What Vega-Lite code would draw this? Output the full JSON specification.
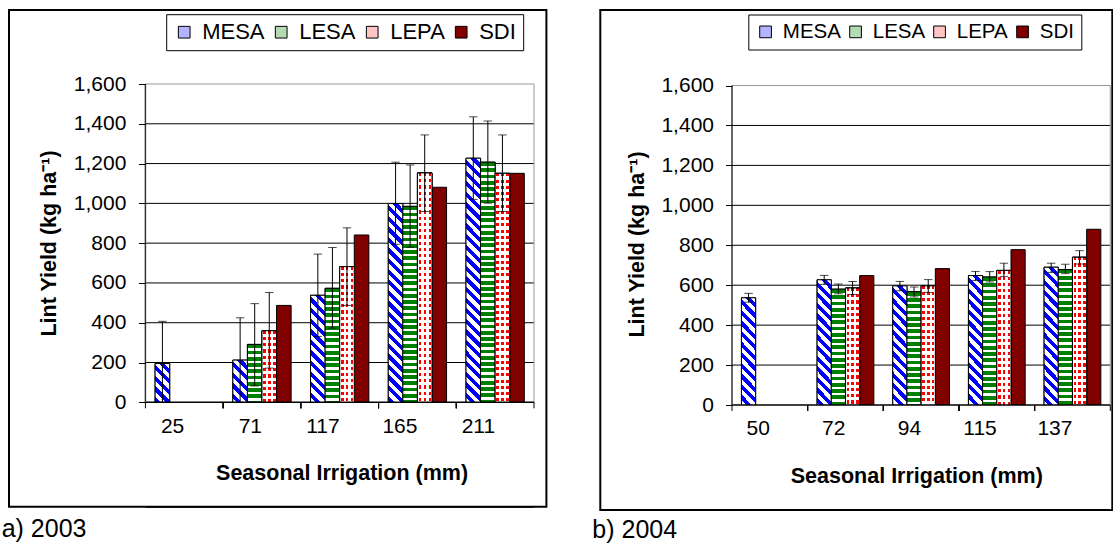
{
"$schema": "https://vega.github.io/schema/vega-lite/v6.json",
"padding": {"left": 0, "top": 9, "right": 0, "bottom": 0},
"background": "white",
"params": [
{"name": "gMesa", "value": {"gradient": "linear", "x1": 0, "y1": 1, "x2": 0.0616, "y2": -0.0548, "stops": [
{"offset":0,"color":"#00f"},{"offset":0.02,"color":"#00f"},{"offset":0.02,"color":"#fff"},{"offset":0.04,"color":"#fff"},
{"offset":0.04,"color":"#00f"},{"offset":0.06,"color":"#00f"},{"offset":0.06,"color":"#fff"},{"offset":0.08,"color":"#fff"},
{"offset":0.08,"color":"#00f"},{"offset":0.1,"color":"#00f"},{"offset":0.1,"color":"#fff"},{"offset":0.12,"color":"#fff"},
{"offset":0.12,"color":"#00f"},{"offset":0.14,"color":"#00f"},{"offset":0.14,"color":"#fff"},{"offset":0.16,"color":"#fff"},
{"offset":0.16,"color":"#00f"},{"offset":0.18,"color":"#00f"},{"offset":0.18,"color":"#fff"},{"offset":0.2,"color":"#fff"},
{"offset":0.2,"color":"#00f"},{"offset":0.22,"color":"#00f"},{"offset":0.22,"color":"#fff"},{"offset":0.24,"color":"#fff"},
{"offset":0.24,"color":"#00f"},{"offset":0.26,"color":"#00f"},{"offset":0.26,"color":"#fff"},{"offset":0.28,"color":"#fff"},
{"offset":0.28,"color":"#00f"},{"offset":0.3,"color":"#00f"},{"offset":0.3,"color":"#fff"},{"offset":0.32,"color":"#fff"},
{"offset":0.32,"color":"#00f"},{"offset":0.34,"color":"#00f"},{"offset":0.34,"color":"#fff"},{"offset":0.36,"color":"#fff"},
{"offset":0.36,"color":"#00f"},{"offset":0.38,"color":"#00f"},{"offset":0.38,"color":"#fff"},{"offset":0.4,"color":"#fff"},
{"offset":0.4,"color":"#00f"},{"offset":0.42,"color":"#00f"},{"offset":0.42,"color":"#fff"},{"offset":0.44,"color":"#fff"},
{"offset":0.44,"color":"#00f"},{"offset":0.46,"color":"#00f"},{"offset":0.46,"color":"#fff"},{"offset":0.48,"color":"#fff"},
{"offset":0.48,"color":"#00f"},{"offset":0.5,"color":"#00f"},{"offset":0.5,"color":"#fff"},{"offset":0.52,"color":"#fff"},
{"offset":0.52,"color":"#00f"},{"offset":0.54,"color":"#00f"},{"offset":0.54,"color":"#fff"},{"offset":0.56,"color":"#fff"},
{"offset":0.56,"color":"#00f"},{"offset":0.58,"color":"#00f"},{"offset":0.58,"color":"#fff"},{"offset":0.6,"color":"#fff"},
{"offset":0.6,"color":"#00f"},{"offset":0.62,"color":"#00f"},{"offset":0.62,"color":"#fff"},{"offset":0.64,"color":"#fff"},
{"offset":0.64,"color":"#00f"},{"offset":0.66,"color":"#00f"},{"offset":0.66,"color":"#fff"},{"offset":0.68,"color":"#fff"},
{"offset":0.68,"color":"#00f"},{"offset":0.7,"color":"#00f"},{"offset":0.7,"color":"#fff"},{"offset":0.72,"color":"#fff"},
{"offset":0.72,"color":"#00f"},{"offset":0.74,"color":"#00f"},{"offset":0.74,"color":"#fff"},{"offset":0.76,"color":"#fff"},
{"offset":0.76,"color":"#00f"},{"offset":0.78,"color":"#00f"},{"offset":0.78,"color":"#fff"},{"offset":0.8,"color":"#fff"},
{"offset":0.8,"color":"#00f"},{"offset":0.82,"color":"#00f"},{"offset":0.82,"color":"#fff"},{"offset":0.84,"color":"#fff"},
{"offset":0.84,"color":"#00f"},{"offset":0.86,"color":"#00f"},{"offset":0.86,"color":"#fff"},{"offset":0.88,"color":"#fff"},
{"offset":0.88,"color":"#00f"},{"offset":0.9,"color":"#00f"},{"offset":0.9,"color":"#fff"},{"offset":0.92,"color":"#fff"},
{"offset":0.92,"color":"#00f"},{"offset":0.94,"color":"#00f"},{"offset":0.94,"color":"#fff"},{"offset":0.96,"color":"#fff"},
{"offset":0.96,"color":"#00f"},{"offset":0.98,"color":"#00f"},{"offset":0.98,"color":"#fff"},{"offset":1,"color":"#fff"}
]}},
{"name": "gLesa", "value": {"gradient": "linear", "x1": 0, "y1": 0, "x2": 0, "y2": 1, "stops": [
{"offset":0,"color":"#008000"},{"offset":0.015,"color":"#008000"},{"offset":0.015,"color":"#fff"},{"offset":0.025,"color":"#fff"},
{"offset":0.025,"color":"#008000"},{"offset":0.04,"color":"#008000"},{"offset":0.04,"color":"#fff"},{"offset":0.05,"color":"#fff"},
{"offset":0.05,"color":"#008000"},{"offset":0.065,"color":"#008000"},{"offset":0.065,"color":"#fff"},{"offset":0.075,"color":"#fff"},
{"offset":0.075,"color":"#008000"},{"offset":0.09,"color":"#008000"},{"offset":0.09,"color":"#fff"},{"offset":0.1,"color":"#fff"},
{"offset":0.1,"color":"#008000"},{"offset":0.115,"color":"#008000"},{"offset":0.115,"color":"#fff"},{"offset":0.125,"color":"#fff"},
{"offset":0.125,"color":"#008000"},{"offset":0.14,"color":"#008000"},{"offset":0.14,"color":"#fff"},{"offset":0.15,"color":"#fff"},
{"offset":0.15,"color":"#008000"},{"offset":0.165,"color":"#008000"},{"offset":0.165,"color":"#fff"},{"offset":0.175,"color":"#fff"},
{"offset":0.175,"color":"#008000"},{"offset":0.19,"color":"#008000"},{"offset":0.19,"color":"#fff"},{"offset":0.2,"color":"#fff"},
{"offset":0.2,"color":"#008000"},{"offset":0.215,"color":"#008000"},{"offset":0.215,"color":"#fff"},{"offset":0.225,"color":"#fff"},
{"offset":0.225,"color":"#008000"},{"offset":0.24,"color":"#008000"},{"offset":0.24,"color":"#fff"},{"offset":0.25,"color":"#fff"},
{"offset":0.25,"color":"#008000"},{"offset":0.265,"color":"#008000"},{"offset":0.265,"color":"#fff"},{"offset":0.275,"color":"#fff"},
{"offset":0.275,"color":"#008000"},{"offset":0.29,"color":"#008000"},{"offset":0.29,"color":"#fff"},{"offset":0.3,"color":"#fff"},
{"offset":0.3,"color":"#008000"},{"offset":0.315,"color":"#008000"},{"offset":0.315,"color":"#fff"},{"offset":0.325,"color":"#fff"},
{"offset":0.325,"color":"#008000"},{"offset":0.34,"color":"#008000"},{"offset":0.34,"color":"#fff"},{"offset":0.35,"color":"#fff"},
{"offset":0.35,"color":"#008000"},{"offset":0.365,"color":"#008000"},{"offset":0.365,"color":"#fff"},{"offset":0.375,"color":"#fff"},
{"offset":0.375,"color":"#008000"},{"offset":0.39,"color":"#008000"},{"offset":0.39,"color":"#fff"},{"offset":0.4,"color":"#fff"},
{"offset":0.4,"color":"#008000"},{"offset":0.415,"color":"#008000"},{"offset":0.415,"color":"#fff"},{"offset":0.425,"color":"#fff"},
{"offset":0.425,"color":"#008000"},{"offset":0.44,"color":"#008000"},{"offset":0.44,"color":"#fff"},{"offset":0.45,"color":"#fff"},
{"offset":0.45,"color":"#008000"},{"offset":0.465,"color":"#008000"},{"offset":0.465,"color":"#fff"},{"offset":0.475,"color":"#fff"},
{"offset":0.475,"color":"#008000"},{"offset":0.49,"color":"#008000"},{"offset":0.49,"color":"#fff"},{"offset":0.5,"color":"#fff"},
{"offset":0.5,"color":"#008000"},{"offset":0.515,"color":"#008000"},{"offset":0.515,"color":"#fff"},{"offset":0.525,"color":"#fff"},
{"offset":0.525,"color":"#008000"},{"offset":0.54,"color":"#008000"},{"offset":0.54,"color":"#fff"},{"offset":0.55,"color":"#fff"},
{"offset":0.55,"color":"#008000"},{"offset":0.565,"color":"#008000"},{"offset":0.565,"color":"#fff"},{"offset":0.575,"color":"#fff"},
{"offset":0.575,"color":"#008000"},{"offset":0.59,"color":"#008000"},{"offset":0.59,"color":"#fff"},{"offset":0.6,"color":"#fff"},
{"offset":0.6,"color":"#008000"},{"offset":0.615,"color":"#008000"},{"offset":0.615,"color":"#fff"},{"offset":0.625,"color":"#fff"},
{"offset":0.625,"color":"#008000"},{"offset":0.64,"color":"#008000"},{"offset":0.64,"color":"#fff"},{"offset":0.65,"color":"#fff"},
{"offset":0.65,"color":"#008000"},{"offset":0.665,"color":"#008000"},{"offset":0.665,"color":"#fff"},{"offset":0.675,"color":"#fff"},
{"offset":0.675,"color":"#008000"},{"offset":0.69,"color":"#008000"},{"offset":0.69,"color":"#fff"},{"offset":0.7,"color":"#fff"},
{"offset":0.7,"color":"#008000"},{"offset":0.715,"color":"#008000"},{"offset":0.715,"color":"#fff"},{"offset":0.725,"color":"#fff"},
{"offset":0.725,"color":"#008000"},{"offset":0.74,"color":"#008000"},{"offset":0.74,"color":"#fff"},{"offset":0.75,"color":"#fff"},
{"offset":0.75,"color":"#008000"},{"offset":0.765,"color":"#008000"},{"offset":0.765,"color":"#fff"},{"offset":0.775,"color":"#fff"},
{"offset":0.775,"color":"#008000"},{"offset":0.79,"color":"#008000"},{"offset":0.79,"color":"#fff"},{"offset":0.8,"color":"#fff"},
{"offset":0.8,"color":"#008000"},{"offset":0.815,"color":"#008000"},{"offset":0.815,"color":"#fff"},{"offset":0.825,"color":"#fff"},
{"offset":0.825,"color":"#008000"},{"offset":0.84,"color":"#008000"},{"offset":0.84,"color":"#fff"},{"offset":0.85,"color":"#fff"},
{"offset":0.85,"color":"#008000"},{"offset":0.865,"color":"#008000"},{"offset":0.865,"color":"#fff"},{"offset":0.875,"color":"#fff"},
{"offset":0.875,"color":"#008000"},{"offset":0.89,"color":"#008000"},{"offset":0.89,"color":"#fff"},{"offset":0.9,"color":"#fff"},
{"offset":0.9,"color":"#008000"},{"offset":0.915,"color":"#008000"},{"offset":0.915,"color":"#fff"},{"offset":0.925,"color":"#fff"},
{"offset":0.925,"color":"#008000"},{"offset":0.94,"color":"#008000"},{"offset":0.94,"color":"#fff"},{"offset":0.95,"color":"#fff"},
{"offset":0.95,"color":"#008000"},{"offset":0.965,"color":"#008000"},{"offset":0.965,"color":"#fff"},{"offset":0.975,"color":"#fff"},
{"offset":0.975,"color":"#008000"},{"offset":0.99,"color":"#008000"},{"offset":0.99,"color":"#fff"},{"offset":1,"color":"#fff"}
]}},
{"name": "gLepaR", "value": {"gradient": "linear", "x1": 0, "y1": 0, "x2": 0, "y2": 1, "stops": [
{"offset":0,"color":"#f00"},{"offset":0.0125,"color":"#f00"},{"offset":0.0125,"color":"#fff"},{"offset":0.025,"color":"#fff"},
{"offset":0.025,"color":"#f00"},{"offset":0.0375,"color":"#f00"},{"offset":0.0375,"color":"#fff"},{"offset":0.05,"color":"#fff"},
{"offset":0.05,"color":"#f00"},{"offset":0.0625,"color":"#f00"},{"offset":0.0625,"color":"#fff"},{"offset":0.075,"color":"#fff"},
{"offset":0.075,"color":"#f00"},{"offset":0.0875,"color":"#f00"},{"offset":0.0875,"color":"#fff"},{"offset":0.1,"color":"#fff"},
{"offset":0.1,"color":"#f00"},{"offset":0.1125,"color":"#f00"},{"offset":0.1125,"color":"#fff"},{"offset":0.125,"color":"#fff"},
{"offset":0.125,"color":"#f00"},{"offset":0.1375,"color":"#f00"},{"offset":0.1375,"color":"#fff"},{"offset":0.15,"color":"#fff"},
{"offset":0.15,"color":"#f00"},{"offset":0.1625,"color":"#f00"},{"offset":0.1625,"color":"#fff"},{"offset":0.175,"color":"#fff"},
{"offset":0.175,"color":"#f00"},{"offset":0.1875,"color":"#f00"},{"offset":0.1875,"color":"#fff"},{"offset":0.2,"color":"#fff"},
{"offset":0.2,"color":"#f00"},{"offset":0.2125,"color":"#f00"},{"offset":0.2125,"color":"#fff"},{"offset":0.225,"color":"#fff"},
{"offset":0.225,"color":"#f00"},{"offset":0.2375,"color":"#f00"},{"offset":0.2375,"color":"#fff"},{"offset":0.25,"color":"#fff"},
{"offset":0.25,"color":"#f00"},{"offset":0.2625,"color":"#f00"},{"offset":0.2625,"color":"#fff"},{"offset":0.275,"color":"#fff"},
{"offset":0.275,"color":"#f00"},{"offset":0.2875,"color":"#f00"},{"offset":0.2875,"color":"#fff"},{"offset":0.3,"color":"#fff"},
{"offset":0.3,"color":"#f00"},{"offset":0.3125,"color":"#f00"},{"offset":0.3125,"color":"#fff"},{"offset":0.325,"color":"#fff"},
{"offset":0.325,"color":"#f00"},{"offset":0.3375,"color":"#f00"},{"offset":0.3375,"color":"#fff"},{"offset":0.35,"color":"#fff"},
{"offset":0.35,"color":"#f00"},{"offset":0.3625,"color":"#f00"},{"offset":0.3625,"color":"#fff"},{"offset":0.375,"color":"#fff"},
{"offset":0.375,"color":"#f00"},{"offset":0.3875,"color":"#f00"},{"offset":0.3875,"color":"#fff"},{"offset":0.4,"color":"#fff"},
{"offset":0.4,"color":"#f00"},{"offset":0.4125,"color":"#f00"},{"offset":0.4125,"color":"#fff"},{"offset":0.425,"color":"#fff"},
{"offset":0.425,"color":"#f00"},{"offset":0.4375,"color":"#f00"},{"offset":0.4375,"color":"#fff"},{"offset":0.45,"color":"#fff"},
{"offset":0.45,"color":"#f00"},{"offset":0.4625,"color":"#f00"},{"offset":0.4625,"color":"#fff"},{"offset":0.475,"color":"#fff"},
{"offset":0.475,"color":"#f00"},{"offset":0.4875,"color":"#f00"},{"offset":0.4875,"color":"#fff"},{"offset":0.5,"color":"#fff"},
{"offset":0.5,"color":"#f00"},{"offset":0.5125,"color":"#f00"},{"offset":0.5125,"color":"#fff"},{"offset":0.525,"color":"#fff"},
{"offset":0.525,"color":"#f00"},{"offset":0.5375,"color":"#f00"},{"offset":0.5375,"color":"#fff"},{"offset":0.55,"color":"#fff"},
{"offset":0.55,"color":"#f00"},{"offset":0.5625,"color":"#f00"},{"offset":0.5625,"color":"#fff"},{"offset":0.575,"color":"#fff"},
{"offset":0.575,"color":"#f00"},{"offset":0.5875,"color":"#f00"},{"offset":0.5875,"color":"#fff"},{"offset":0.6,"color":"#fff"},
{"offset":0.6,"color":"#f00"},{"offset":0.6125,"color":"#f00"},{"offset":0.6125,"color":"#fff"},{"offset":0.625,"color":"#fff"},
{"offset":0.625,"color":"#f00"},{"offset":0.6375,"color":"#f00"},{"offset":0.6375,"color":"#fff"},{"offset":0.65,"color":"#fff"},
{"offset":0.65,"color":"#f00"},{"offset":0.6625,"color":"#f00"},{"offset":0.6625,"color":"#fff"},{"offset":0.675,"color":"#fff"},
{"offset":0.675,"color":"#f00"},{"offset":0.6875,"color":"#f00"},{"offset":0.6875,"color":"#fff"},{"offset":0.7,"color":"#fff"},
{"offset":0.7,"color":"#f00"},{"offset":0.7125,"color":"#f00"},{"offset":0.7125,"color":"#fff"},{"offset":0.725,"color":"#fff"},
{"offset":0.725,"color":"#f00"},{"offset":0.7375,"color":"#f00"},{"offset":0.7375,"color":"#fff"},{"offset":0.75,"color":"#fff"},
{"offset":0.75,"color":"#f00"},{"offset":0.7625,"color":"#f00"},{"offset":0.7625,"color":"#fff"},{"offset":0.775,"color":"#fff"},
{"offset":0.775,"color":"#f00"},{"offset":0.7875,"color":"#f00"},{"offset":0.7875,"color":"#fff"},{"offset":0.8,"color":"#fff"},
{"offset":0.8,"color":"#f00"},{"offset":0.8125,"color":"#f00"},{"offset":0.8125,"color":"#fff"},{"offset":0.825,"color":"#fff"},
{"offset":0.825,"color":"#f00"},{"offset":0.8375,"color":"#f00"},{"offset":0.8375,"color":"#fff"},{"offset":0.85,"color":"#fff"},
{"offset":0.85,"color":"#f00"},{"offset":0.8625,"color":"#f00"},{"offset":0.8625,"color":"#fff"},{"offset":0.875,"color":"#fff"},
{"offset":0.875,"color":"#f00"},{"offset":0.8875,"color":"#f00"},{"offset":0.8875,"color":"#fff"},{"offset":0.9,"color":"#fff"},
{"offset":0.9,"color":"#f00"},{"offset":0.9125,"color":"#f00"},{"offset":0.9125,"color":"#fff"},{"offset":0.925,"color":"#fff"},
{"offset":0.925,"color":"#f00"},{"offset":0.9375,"color":"#f00"},{"offset":0.9375,"color":"#fff"},{"offset":0.95,"color":"#fff"},
{"offset":0.95,"color":"#f00"},{"offset":0.9625,"color":"#f00"},{"offset":0.9625,"color":"#fff"},{"offset":0.975,"color":"#fff"},
{"offset":0.975,"color":"#f00"},{"offset":0.9875,"color":"#f00"},{"offset":0.9875,"color":"#fff"},{"offset":1,"color":"#fff"}
]}},
{"name": "gLepaC", "value": {"gradient": "linear", "x1": 0, "y1": 0, "x2": 1, "y2": 0, "stops": [
{"offset":0,"color":"#fff"},{"offset":0.09,"color":"#fff"},{"offset":0.09,"color":"rgba(255,255,255,0)"},{"offset":0.27,"color":"rgba(255,255,255,0)"},
{"offset":0.27,"color":"#fff"},{"offset":0.42,"color":"#fff"},{"offset":0.42,"color":"rgba(255,255,255,0)"},{"offset":0.6,"color":"rgba(255,255,255,0)"},
{"offset":0.6,"color":"#fff"},{"offset":0.76,"color":"#fff"},{"offset":0.76,"color":"rgba(255,255,255,0)"},{"offset":0.93,"color":"rgba(255,255,255,0)"},
{"offset":0.93,"color":"#fff"},{"offset":1,"color":"#fff"}
]}}
],
"datasets": {
"y2003": [
{"cat":"25","s":"MESA","v":195,"lo":0,"hi":407},
{"cat":"71","s":"MESA","v":212,"lo":0,"hi":425},
{"cat":"71","s":"LESA","v":291,"lo":82,"hi":496},
{"cat":"71","s":"LEPA","v":360,"lo":172,"hi":552},
{"cat":"71","s":"SDI","v":487},
{"cat":"117","s":"MESA","v":538,"lo":331,"hi":745},
{"cat":"117","s":"LESA","v":573,"lo":373,"hi":778},
{"cat":"117","s":"LEPA","v":682,"lo":487,"hi":877},
{"cat":"117","s":"SDI","v":841},
{"cat":"165","s":"MESA","v":999,"lo":794,"hi":1207},
{"cat":"165","s":"LESA","v":985,"lo":780,"hi":1193},
{"cat":"165","s":"LEPA","v":1153,"lo":959,"hi":1344},
{"cat":"165","s":"SDI","v":1081},
{"cat":"211","s":"MESA","v":1227,"lo":1020,"hi":1435},
{"cat":"211","s":"LESA","v":1207,"lo":1001,"hi":1414},
{"cat":"211","s":"LEPA","v":1151,"lo":959,"hi":1344},
{"cat":"211","s":"SDI","v":1151}
],
"y2004": [
{"cat":"50","s":"MESA","v":537,"lo":515,"hi":559},
{"cat":"72","s":"MESA","v":627,"lo":604,"hi":649},
{"cat":"72","s":"LESA","v":580,"lo":557,"hi":606},
{"cat":"72","s":"LEPA","v":586,"lo":554,"hi":619},
{"cat":"72","s":"SDI","v":648},
{"cat":"94","s":"MESA","v":597,"lo":572,"hi":619},
{"cat":"94","s":"LESA","v":567,"lo":541,"hi":591},
{"cat":"94","s":"LEPA","v":597,"lo":564,"hi":628},
{"cat":"94","s":"SDI","v":683},
{"cat":"115","s":"MESA","v":648,"lo":623,"hi":669},
{"cat":"115","s":"LESA","v":641,"lo":616,"hi":668},
{"cat":"115","s":"LEPA","v":674,"lo":643,"hi":710},
{"cat":"115","s":"SDI","v":778},
{"cat":"137","s":"MESA","v":690,"lo":664,"hi":710},
{"cat":"137","s":"LESA","v":678,"lo":658,"hi":705},
{"cat":"137","s":"LEPA","v":740,"lo":706,"hi":773},
{"cat":"137","s":"SDI","v":880}
],
"grid": [{"g":200},{"g":400},{"g":600},{"g":800},{"g":1000},{"g":1200},{"g":1400}]
},
"spacing": 53.3,
"bounds": "flush",
"resolve": {"scale": {"x": "independent", "y": "independent", "xOffset": "independent", "color": "independent"}, "legend": {"color": "independent"}, "axis": {"x": "independent", "y": "independent"}},
"hconcat": [
{
"width": 537.4, "height": 496.7,
"data": {"name": "y2003"},
"title": {"text": "a) 2003", "orient": "bottom", "anchor": "start", "frame": "group", "dx": -7.3, "offset": 9, "fontSize": 25, "fontWeight": "normal", "font": "Liberation Sans", "color": "black"},
"layer": [
{"data": {"name": "grid"}, "mark": {"type": "rule", "color": "black", "strokeWidth": 1},
 "encoding": {"x": {"datum": "25", "bandPosition": 0}, "x2": {"datum": "211", "bandPosition": 1}, "y": {"field": "g", "type": "quantitative"}}},
{"data": {"values": [{}]}, "mark": {"type": "rule", "color": "#999999", "strokeWidth": 1},
 "encoding": {"x": {"datum": "25", "bandPosition": 0}, "x2": {"datum": "211", "bandPosition": 1}, "y": {"datum": 1600}}},
{"data": {"values": [{}]}, "mark": {"type": "rule", "color": "#999999", "strokeWidth": 1},
 "encoding": {"x": {"datum": "211", "bandPosition": 1}, "y": {"datum": 0}, "y2": {"datum": 1600}}},
{"mark": {"type": "bar", "stroke": "black", "strokeWidth": 1},
 "encoding": {
  "x": {"field": "cat", "type": "nominal", "scale": {"domain": ["25","71","117","165","211"], "paddingInner": 0, "paddingOuter": 0.9573, "align": 0.9167},
        "axis": {"orient": "bottom", "offset": -104.4, "zindex": 2, "ticks": false, "tickSize": 0, "labelAngle": 0, "labelPadding": 23.7, "title": "Seasonal Irrigation (mm)", "titleX": 332.6, "titleY": 77, "titleAlign": "center", "titleBaseline": "alphabetic"}},
  "xOffset": {"field": "s", "type": "nominal", "scale": {"domain": ["MESA","LESA","LEPA","SDI"], "paddingInner": 0, "paddingOuter": 0.6667}},
  "y": {"field": "v", "type": "quantitative", "scale": {"domain": [-524.8, 1972], "nice": false, "zero": false},
        "axis": {"orient": "left", "offset": -136.4, "zindex": 2, "values": [0,200,400,600,800,1000,1200,1400,1600], "labelExpr": "format(datum.value, ',')", "tickSize": 7, "labelPadding": 12.5, "title": "Lint Yield (kg ha⁻¹)", "titleAngle": -90, "titleX": -96.2, "titleY": 233, "titleAlign": "center", "titleBaseline": "middle"}},
  "y2": {"datum": 0},
  "color": {"field": "s", "type": "nominal", "scale": {"domain": ["MESA","LESA","LEPA","SDI"], "range": ["#b3b3ff","#b3dab3","#ffc4c4","#800000"]},
            "legend": {"title": null, "orient": "none", "legendX": 157.2, "legendY": 4.2, "direction": "horizontal", "symbolType": "square", "symbolSize": 137, "symbolStrokeColor": "black", "symbolStrokeWidth": 1, "labelFontSize": 22, "labelFont": "Liberation Sans", "labelColor": "black", "labelOffset": 7, "columnPadding": 5, "padding": 7, "strokeColor": "black", "fillColor": "white"}}
 }},
{"transform": [{"filter": "datum.s === 'MESA'"}], "mark": {"type": "bar", "fill": {"expr": "gMesa"}, "stroke": "black", "strokeWidth": 1, "y2Offset": 250, "clip": true},
 "encoding": {"x": {"field": "cat", "type": "nominal"}, "xOffset": {"field": "s", "type": "nominal"}, "y": {"field": "v", "type": "quantitative"}, "y2": {"field": "v"}}},
{"transform": [{"filter": "datum.s === 'LESA'"}], "mark": {"type": "bar", "fill": {"expr": "gLesa"}, "stroke": "black", "strokeWidth": 1, "y2Offset": 250, "clip": true},
 "encoding": {"x": {"field": "cat", "type": "nominal"}, "xOffset": {"field": "s", "type": "nominal"}, "y": {"field": "v", "type": "quantitative"}, "y2": {"field": "v"}}},
{"transform": [{"filter": "datum.s === 'LEPA'"}], "mark": {"type": "bar", "fill": {"expr": "gLepaR"}, "stroke": "black", "strokeWidth": 1, "y2Offset": 250, "clip": true},
 "encoding": {"x": {"field": "cat", "type": "nominal"}, "xOffset": {"field": "s", "type": "nominal"}, "y": {"field": "v", "type": "quantitative"}, "y2": {"field": "v"}}},
{"transform": [{"filter": "datum.s === 'LEPA'"}], "mark": {"type": "bar", "fill": {"expr": "gLepaC"}, "stroke": "black", "strokeWidth": 1, "y2Offset": 250, "clip": true},
 "encoding": {"x": {"field": "cat", "type": "nominal"}, "xOffset": {"field": "s", "type": "nominal"}, "y": {"field": "v", "type": "quantitative"}, "y2": {"field": "v"}}},
{"data": {"values": [{}]}, "mark": {"type": "rect", "fill": "white", "clip": true},
 "encoding": {"x": {"datum": "25", "bandPosition": 0}, "x2": {"datum": "211", "bandPosition": 1}, "y": {"datum": 0}, "y2": {"datum": -524.8}}},
{"data": {"values": [{}]}, "mark": {"type": "rule", "color": "black", "strokeWidth": 2},
 "encoding": {"x": {"datum": "25", "bandPosition": 0}, "x2": {"datum": "211", "bandPosition": 1}, "y": {"datum": -524.8}}},
{"transform": [{"filter": "isValid(datum.hi)"}], "mark": {"type": "rule", "color": "black", "strokeWidth": 1},
 "encoding": {"x": {"field": "cat", "type": "nominal"}, "xOffset": {"field": "s", "type": "nominal"}, "y": {"field": "lo", "type": "quantitative"}, "y2": {"field": "hi"}}},
{"transform": [{"filter": "isValid(datum.hi)"}], "mark": {"type": "tick", "orient": "horizontal", "size": 8.5, "thickness": 1, "color": "black"},
 "encoding": {"x": {"field": "cat", "type": "nominal"}, "xOffset": {"field": "s", "type": "nominal"}, "y": {"field": "lo", "type": "quantitative"}}},
{"transform": [{"filter": "isValid(datum.hi)"}], "mark": {"type": "tick", "orient": "horizontal", "size": 8.5, "thickness": 1, "color": "black"},
 "encoding": {"x": {"field": "cat", "type": "nominal"}, "xOffset": {"field": "s", "type": "nominal"}, "y": {"field": "hi", "type": "quantitative"}}},
{"mark": {"type": "rule", "color": "black", "strokeWidth": 1, "y2Offset": 6},
 "encoding": {"x": {"field": "cat", "type": "nominal", "bandPosition": 0}, "y": {"datum": 0}, "y2": {"datum": 0}}},
{"data": {"values": [{}]}, "mark": {"type": "rule", "color": "black", "strokeWidth": 1, "y2Offset": 6},
 "encoding": {"x": {"datum": "211", "bandPosition": 1}, "y": {"datum": 0}, "y2": {"datum": 0}}},
{"data": {"values": [{}]}, "mark": {"type": "rule", "color": "black", "strokeWidth": 1.5},
 "encoding": {"x": {"datum": "25", "bandPosition": 0}, "x2": {"datum": "211", "bandPosition": 1}, "y": {"datum": 0}}},
{"data": {"values": [{}]}, "mark": {"type": "rule", "color": "#333333", "strokeWidth": 1.5},
 "encoding": {"x": {"datum": "25", "bandPosition": 0}, "y": {"datum": 0}, "y2": {"datum": 1600}}}
]
},
{
"width": 512, "height": 500,
"data": {"name": "y2004"},
"title": {"text": "b) 2004", "orient": "bottom", "anchor": "start", "frame": "group", "dx": -8, "offset": 7, "fontSize": 25, "fontWeight": "normal", "font": "Liberation Sans", "color": "black"},
"layer": [
{"data": {"name": "grid"}, "mark": {"type": "rule", "color": "black", "strokeWidth": 1},
 "encoding": {"x": {"datum": "50", "bandPosition": 0}, "x2": {"datum": "137", "bandPosition": 1}, "y": {"field": "g", "type": "quantitative"}}},
{"data": {"values": [{}]}, "mark": {"type": "rule", "color": "#999999", "strokeWidth": 1},
 "encoding": {"x": {"datum": "50", "bandPosition": 0}, "x2": {"datum": "137", "bandPosition": 1}, "y": {"datum": 1600}}},
{"data": {"values": [{}]}, "mark": {"type": "rule", "color": "#999999", "strokeWidth": 1},
 "encoding": {"x": {"datum": "137", "bandPosition": 1}, "y": {"datum": 0}, "y2": {"datum": 1600}}},
{"mark": {"type": "bar", "stroke": "black", "strokeWidth": 1},
 "encoding": {
  "x": {"field": "cat", "type": "nominal", "scale": {"domain": ["50","72","94","115","137"], "paddingInner": 0, "paddingOuter": 0.8835, "align": 0.985},
        "axis": {"orient": "bottom", "offset": -105, "zindex": 2, "ticks": false, "tickSize": 0, "labelAngle": 0, "labelPadding": 23.5, "title": "Seasonal Irrigation (mm)", "titleX": 316, "titleY": 77.9, "titleAlign": "center", "titleBaseline": "alphabetic"}},
  "xOffset": {"field": "s", "type": "nominal", "scale": {"domain": ["MESA","LESA","LEPA","SDI"], "paddingInner": 0, "paddingOuter": 0.6667}},
  "y": {"field": "v", "type": "quantitative", "scale": {"domain": [-525.8, 1978.1], "nice": false, "zero": false},
        "axis": {"orient": "left", "offset": -131.7, "zindex": 2, "values": [0,200,400,600,800,1000,1200,1400,1600], "labelExpr": "format(datum.value, ',')", "tickSize": 6.5, "labelPadding": 12, "title": "Lint Yield (kg ha⁻¹)", "titleAngle": -90, "titleX": -94.7, "titleY": 234, "titleAlign": "center", "titleBaseline": "middle"}},
  "y2": {"datum": 0},
  "color": {"field": "s", "type": "nominal", "scale": {"domain": ["MESA","LESA","LEPA","SDI"], "range": ["#b3b3ff","#b3dab3","#ffc4c4","#800000"]},
            "legend": {"title": null, "orient": "none", "legendX": 148, "legendY": 4.5, "direction": "horizontal", "symbolType": "square", "symbolSize": 137, "symbolStrokeColor": "black", "symbolStrokeWidth": 1, "labelFontSize": 20.5, "labelFont": "Liberation Sans", "labelColor": "black", "labelOffset": 7, "columnPadding": 4, "padding": 7, "strokeColor": "black", "fillColor": "white"}}
 }},
{"transform": [{"filter": "datum.s === 'MESA'"}], "mark": {"type": "bar", "fill": {"expr": "gMesa"}, "stroke": "black", "strokeWidth": 1, "y2Offset": 250, "clip": true},
 "encoding": {"x": {"field": "cat", "type": "nominal"}, "xOffset": {"field": "s", "type": "nominal"}, "y": {"field": "v", "type": "quantitative"}, "y2": {"field": "v"}}},
{"transform": [{"filter": "datum.s === 'LESA'"}], "mark": {"type": "bar", "fill": {"expr": "gLesa"}, "stroke": "black", "strokeWidth": 1, "y2Offset": 250, "clip": true},
 "encoding": {"x": {"field": "cat", "type": "nominal"}, "xOffset": {"field": "s", "type": "nominal"}, "y": {"field": "v", "type": "quantitative"}, "y2": {"field": "v"}}},
{"transform": [{"filter": "datum.s === 'LEPA'"}], "mark": {"type": "bar", "fill": {"expr": "gLepaR"}, "stroke": "black", "strokeWidth": 1, "y2Offset": 250, "clip": true},
 "encoding": {"x": {"field": "cat", "type": "nominal"}, "xOffset": {"field": "s", "type": "nominal"}, "y": {"field": "v", "type": "quantitative"}, "y2": {"field": "v"}}},
{"transform": [{"filter": "datum.s === 'LEPA'"}], "mark": {"type": "bar", "fill": {"expr": "gLepaC"}, "stroke": "black", "strokeWidth": 1, "y2Offset": 250, "clip": true},
 "encoding": {"x": {"field": "cat", "type": "nominal"}, "xOffset": {"field": "s", "type": "nominal"}, "y": {"field": "v", "type": "quantitative"}, "y2": {"field": "v"}}},
{"data": {"values": [{}]}, "mark": {"type": "rect", "fill": "white", "clip": true},
 "encoding": {"x": {"datum": "50", "bandPosition": 0}, "x2": {"datum": "137", "bandPosition": 1}, "y": {"datum": 0}, "y2": {"datum": -525.8}}},
{"data": {"values": [{}]}, "mark": {"type": "rule", "color": "black", "strokeWidth": 2},
 "encoding": {"x": {"datum": "50", "bandPosition": 0}, "x2": {"datum": "137", "bandPosition": 1}, "y": {"datum": -525.8}}},
{"transform": [{"filter": "isValid(datum.hi)"}], "mark": {"type": "rule", "color": "black", "strokeWidth": 1},
 "encoding": {"x": {"field": "cat", "type": "nominal"}, "xOffset": {"field": "s", "type": "nominal"}, "y": {"field": "lo", "type": "quantitative"}, "y2": {"field": "hi"}}},
{"transform": [{"filter": "isValid(datum.hi)"}], "mark": {"type": "tick", "orient": "horizontal", "size": 8.5, "thickness": 1, "color": "black"},
 "encoding": {"x": {"field": "cat", "type": "nominal"}, "xOffset": {"field": "s", "type": "nominal"}, "y": {"field": "lo", "type": "quantitative"}}},
{"transform": [{"filter": "isValid(datum.hi)"}], "mark": {"type": "tick", "orient": "horizontal", "size": 8.5, "thickness": 1, "color": "black"},
 "encoding": {"x": {"field": "cat", "type": "nominal"}, "xOffset": {"field": "s", "type": "nominal"}, "y": {"field": "hi", "type": "quantitative"}}},
{"mark": {"type": "rule", "color": "black", "strokeWidth": 1, "y2Offset": 6},
 "encoding": {"x": {"field": "cat", "type": "nominal", "bandPosition": 0}, "y": {"datum": 0}, "y2": {"datum": 0}}},
{"data": {"values": [{}]}, "mark": {"type": "rule", "color": "black", "strokeWidth": 1, "y2Offset": 6},
 "encoding": {"x": {"datum": "137", "bandPosition": 1}, "y": {"datum": 0}, "y2": {"datum": 0}}},
{"data": {"values": [{}]}, "mark": {"type": "rule", "color": "black", "strokeWidth": 1.5},
 "encoding": {"x": {"datum": "50", "bandPosition": 0}, "x2": {"datum": "137", "bandPosition": 1}, "y": {"datum": 0}}},
{"data": {"values": [{}]}, "mark": {"type": "rule", "color": "#333333", "strokeWidth": 1.5},
 "encoding": {"x": {"datum": "50", "bandPosition": 0}, "y": {"datum": 0}, "y2": {"datum": 1600}}}
]
}
],
"config": {
"font": "Liberation Sans",
"view": {"stroke": "black", "strokeWidth": 2},
"axis": {"labelFont": "Liberation Sans", "titleFont": "Liberation Sans", "labelColor": "black", "titleColor": "black", "tickColor": "black", "tickWidth": 1, "labelFontSize": 21, "titleFontSize": 21.5, "titleFontWeight": "bold", "domain": false, "grid": false, "zindex": 2}
}
}
